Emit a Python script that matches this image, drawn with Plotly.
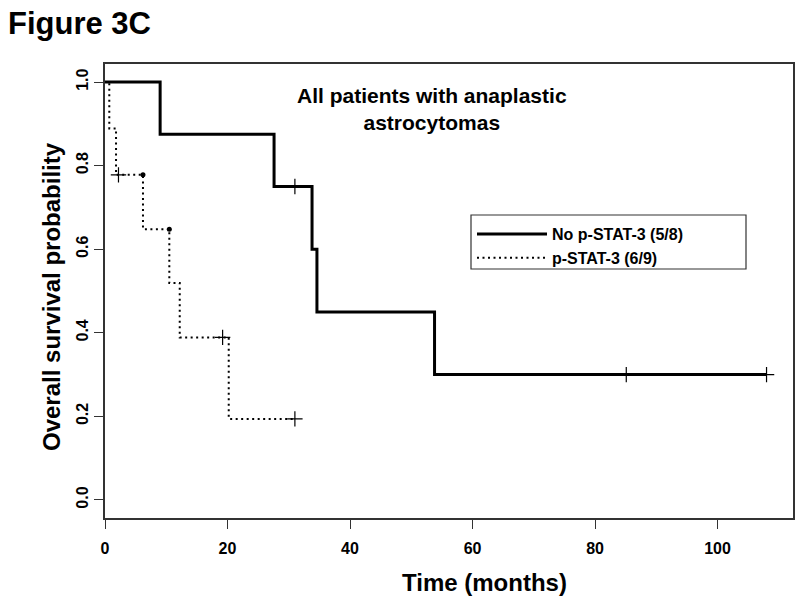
import plotly.graph_objects as go

# Kaplan-Meier step data
solid_times = [0, 9.0, 27.6, 33.8, 34.6, 53.8, 108.0]
solid_surv = [1.0, 0.875, 0.75, 0.6, 0.45, 0.3, 0.3]
solid_censor_t = [31.0, 85.1, 108.0]
solid_censor_s = [0.75, 0.3, 0.3]

dotted_times = [0, 0.7, 1.8, 6.2, 10.5, 12.2, 20.2, 31.0]
dotted_surv = [1.0, 0.889, 0.778, 0.648, 0.519, 0.389, 0.194, 0.194]
dotted_censor_t = [2.2, 19.2, 31.0]
dotted_censor_s = [0.778, 0.389, 0.194]
dotted_corner_t = [6.2, 10.5]
dotted_corner_s = [0.778, 0.648]

series_names = ["No p-STAT-3 (5/8)", "p-STAT-3 (6/9)"]
x_ticks = [0, 20, 40, 60, 80, 100]
y_ticks = [0.0, 0.2, 0.4, 0.6, 0.8, 1.0]

FONT = "Liberation Sans, Arial, sans-serif"
INK = "#000000"

fig = go.Figure()
fig.add_trace(go.Scatter(x=solid_times, y=solid_surv, mode="lines", line_shape="hv",
                         line=dict(color=INK, width=3), name=series_names[0]))
fig.add_trace(go.Scatter(x=dotted_times, y=dotted_surv, mode="lines", line_shape="hv",
                         line=dict(color=INK, width=2, dash="2px,3.5px"), name=series_names[1]))
fig.add_trace(go.Scatter(x=solid_censor_t, y=solid_censor_s, mode="markers", showlegend=False,
                         marker=dict(symbol="cross-thin", size=11, line=dict(color=INK, width=1.2))))
fig.add_trace(go.Scatter(x=dotted_censor_t, y=dotted_censor_s, mode="markers", showlegend=False,
                         marker=dict(symbol="cross-thin", size=11, line=dict(color=INK, width=1.2))))
fig.add_trace(go.Scatter(x=dotted_corner_t, y=dotted_corner_s, mode="markers", showlegend=False,
                         marker=dict(symbol="circle", size=5, color=INK)))

axis_common = dict(showline=True, linecolor="#333333", linewidth=1.5, mirror=True,
                   ticks="outside", ticklen=9, tickwidth=1.2, tickcolor="#333333",
                   showgrid=False, zeroline=False, automargin=False,
                   tickfont=dict(family=FONT, size=16, color=INK, weight="bold"))

fig.update_xaxes(range=[0, 112.32], tickvals=x_ticks, ticklabelstandoff=6, **axis_common)
fig.update_yaxes(range=[-0.0432, 1.0432], tickvals=y_ticks, tickformat=".1f", tickangle=-90,
                 **axis_common)

W, H = 800, 603
L, R, T, B = 105, 7, 64, 85
PW, PH = W - L - R, H - T - B


def px_x(p):
    return (p - L) / PW


def px_y(p):
    return (H - B - p) / PH


fig.update_layout(
    width=W, height=H,
    margin=dict(l=L, r=R, t=T, b=B),
    paper_bgcolor="white", plot_bgcolor="white",
    font=dict(family=FONT, color=INK),
    legend=dict(x=px_x(472), y=px_y(217), xanchor="left", yanchor="top",
                borderwidth=0, bgcolor="rgba(0,0,0,0)", itemwidth=70,
                font=dict(family=FONT, size=16, color=INK, weight="bold"),
                tracegroupgap=0),
    shapes=[
        dict(type="rect", xref="paper", yref="paper",
             x0=px_x(471), x1=px_x(746), y0=px_y(269), y1=px_y(215),
             line=dict(color="#333333", width=1.2), fillcolor="rgba(0,0,0,0)", layer="below"),
    ],
    annotations=[
        dict(text="Figure 3C", xref="paper", yref="paper", x=px_x(6), y=px_y(4),
             xanchor="left", yanchor="top", showarrow=False,
             font=dict(family=FONT, size=31, color=INK, weight="bold")),
        dict(text="All patients with anaplastic<br>astrocytomas", xref="x", yref="y",
             x=53.4, y=0.935, xanchor="center", yanchor="middle", showarrow=False,
             font=dict(family=FONT, size=21, color=INK, weight="bold")),
        dict(text="Overall survival probability", xref="paper", yref="paper",
             x=px_x(51), y=px_y(297), xanchor="center", yanchor="middle", textangle=-90,
             showarrow=False, font=dict(family=FONT, size=24, color=INK, weight="bold")),
        dict(text="Time (months)", xref="paper", yref="paper",
             x=px_x(484), y=px_y(582), xanchor="center", yanchor="middle",
             showarrow=False, font=dict(family=FONT, size=24, color=INK, weight="bold")),
    ],
)

fig.write_html("out.html", config={"displayModeBar": False},
               post_script="document.body.style.margin='0';")
